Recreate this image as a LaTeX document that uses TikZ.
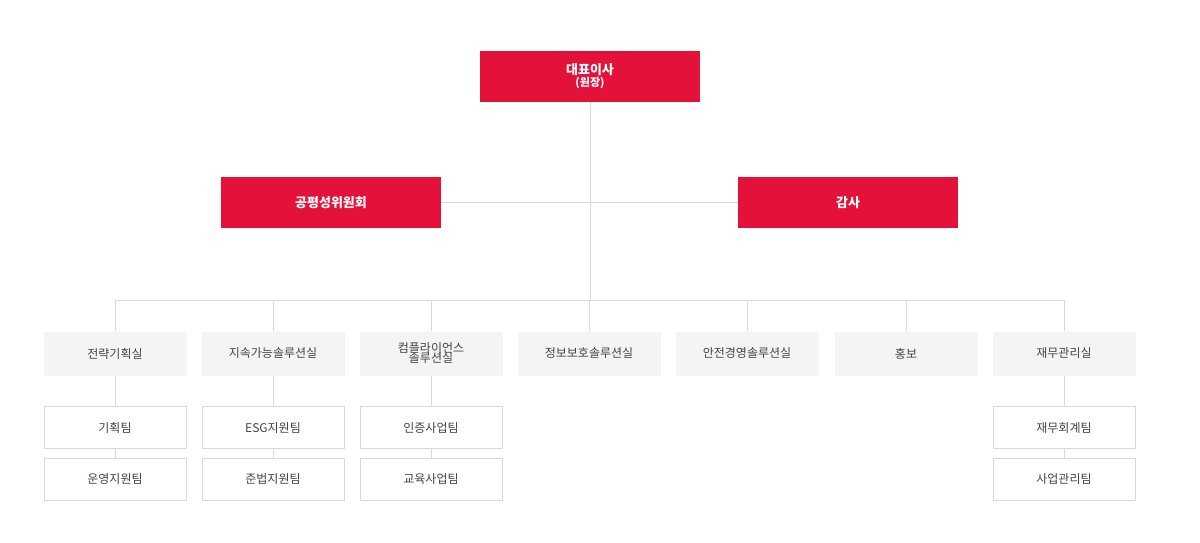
\documentclass[tikz,border=0pt]{standalone}
\usepackage{fontspec}
\setmainfont{Noto Sans CJK KR}
\newfontfamily\krb[FakeBold=0]{Noto Sans CJK KR Bold}
\definecolor{redc}{HTML}{E4123A}
\definecolor{grayf}{HTML}{F4F4F4}
\definecolor{lnc}{HTML}{D9D9D9}
\definecolor{txc}{HTML}{444444}
\begin{document}
\begin{tikzpicture}[x=1pt,y=-1pt,
  redbox/.style={fill=redc,text=white,minimum width=220pt,minimum height=51pt,inner sep=0pt,font=\fontsize{13}{14}\selectfont\bfseries,align=center},
  dept/.style={fill=grayf,text=txc,minimum width=143pt,minimum height=44pt,inner sep=0pt,font=\fontsize{12}{13}\selectfont,align=center},
  team/.style={draw=lnc,fill=white,text=txc,minimum width=142pt,minimum height=42pt,inner sep=0pt,font=\fontsize{12}{13}\selectfont},
  ln/.style={draw=lnc,line width=0.8pt}]
\useasboundingbox (0,0) rectangle (1200,542);
\node[redbox] (ceo) at (590,76.5) {대표이사\\[-2pt]{\fontsize{11}{12}\selectfont(원장)}};
\node[redbox] (com) at (331,202.5) {공평성위원회};
\node[redbox] (aud) at (848,202.5) {감사};
\coordinate (j1) at (590,202.5);
\coordinate (j2) at (590,300);
\draw[ln] (ceo) -- (j2);
\draw[ln] (com) -- (aud);
\foreach \n/\x/\t in {d1/115/전략기획실,d2/273/지속가능솔루션실,d3/431/{컴플라이언스\\[-3pt]솔루션실},d4/589/정보보호솔루션실,d5/747/안전경영솔루션실,d6/906/홍보/출판지원실,d7/1064/재무관리실}{
  \node[dept] (\n) at (\x,353.5) {\t};
  \coordinate (\n t) at (\x,300);
  \draw[ln] (\n t) -- (\n);
}
\draw[ln] (d1t) -- (d7t);
\foreach \d/\a/\b in {d1/기획팀/운영지원팀,d2/ESG지원팀/준법지원팀,d3/인증사업팀/교육사업팀,d7/재무회계팀/사업관리팀}{
  \node[team] (\d a) at (\d|-0,427.5) {\a};
  \node[team] (\d b) at (\d|-0,479) {\b};
  \draw[ln] (\d) -- (\d a);
  \draw[ln] (\d a) -- (\d b);
}
\end{tikzpicture}
\end{document}
